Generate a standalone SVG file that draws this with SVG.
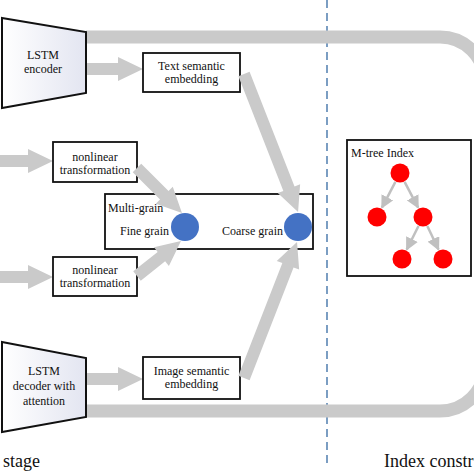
<svg xmlns="http://www.w3.org/2000/svg" width="474" height="474" viewBox="0 0 474 474">
<defs>
<linearGradient id="trap" x1="0" y1="0" x2="1" y2="0">
<stop offset="0" stop-color="#ffffff"/>
<stop offset="1" stop-color="#e3e5f1"/>
</linearGradient>
<marker id="tri" viewBox="0 0 10 10" refX="9" refY="5" markerUnits="userSpaceOnUse" markerWidth="13" markerHeight="13" orient="auto">
<path d="M0,0 L10,5 L0,10 z" fill="#c0c0c0"/>
</marker>
</defs>
<style>
text{font-family:"Liberation Serif","Times New Roman",serif;fill:#111;}
.t12{font-size:12px;text-anchor:middle;}
.l12{font-size:12px;}
.big{font-size:18px;}
.box{fill:#fff;stroke:#111;stroke-width:1.8;}
.trap{fill:url(#trap);stroke:#111;stroke-width:2;}
.band{fill:none;stroke:#cacaca;stroke-width:13;}
.ga{fill:#cacaca;}
.tl{stroke:#c0c0c0;stroke-width:2.5;fill:none;marker-end:url(#tri);}
.blue{fill:#4472c4;}
.red{fill:#ff0000;}
.dash{stroke:#5b86b4;stroke-width:1.6;stroke-dasharray:8 5;fill:none;}
</style>
<rect width="474" height="474" fill="#fff"/>
<line class="dash" x1="327" y1="0" x2="327" y2="463"/>
<g id="connectors">
<path class="band" d="M86 37 H440 A45 45 0 0 1 485 82 V366 A45 45 0 0 1 440 411 H86"/>
<polygon class="ga" transform="translate(86,69)" points="0,-6 32,-6 32,-12 57,0 32,12 32,6 0,6"/>
<polygon class="ga" transform="translate(0,161)" points="0,-6 28,-6 28,-12 53,0 28,12 28,6 0,6"/>
<polygon class="ga" transform="translate(0,277)" points="0,-6 28,-6 28,-12 53,0 28,12 28,6 0,6"/>
<polygon class="ga" transform="translate(86,379)" points="0,-6 32,-6 32,-12 57,0 32,12 32,6 0,6"/>
</g>
<g id="lstm-encoder">
<polygon class="trap" points="2,18 86,32 86,93 2,108"/>
<text class="t12" x="43" y="59">LSTM</text>
<text class="t12" x="43" y="73">encoder</text>
</g>
<g id="lstm-decoder">
<polygon class="trap" points="2,342 86,358 86,417 2,432"/>
<text class="t12" x="44" y="375">LSTM</text>
<text class="t12" x="44" y="390">decoder with</text>
<text class="t12" x="44" y="405">attention</text>
</g>
<g id="text-embedding">
<rect class="box" x="143" y="53" width="97" height="39"/>
<text class="t12" x="191.5" y="70">Text semantic</text>
<text class="t12" x="191.5" y="83">embedding</text>
</g>
<g id="image-embedding">
<rect class="box" x="143" y="357" width="97" height="42"/>
<text class="t12" x="191.5" y="375">Image semantic</text>
<text class="t12" x="191.5" y="388">embedding</text>
</g>
<g id="nonlinear-top">
<rect class="box" x="53" y="142" width="84" height="40"/>
<text class="t12" x="95" y="161">nonlinear</text>
<text class="t12" x="95" y="174">transformation</text>
</g>
<g id="nonlinear-bottom">
<rect class="box" x="53" y="257" width="84" height="39"/>
<text class="t12" x="95" y="274">nonlinear</text>
<text class="t12" x="95" y="287">transformation</text>
</g>
<g id="multi-grain">
<rect class="box" x="105" y="194" width="208" height="55"/>
<text class="l12" x="108" y="212">Multi-grain</text>
<text class="l12" x="120" y="235">Fine grain</text>
<text class="l12" x="222" y="235">Coarse grain</text>
</g>
<g id="connectors-diag">
<polygon class="ga" transform="translate(137,168) rotate(45)" points="0,-6 38.6,-6 38.6,-12 63.6,0 38.6,12 38.6,6 0,6"/>
<polygon class="ga" transform="translate(137,276) rotate(-38.5)" points="0,-6 31.2,-6 31.2,-12 56.2,0 31.2,12 31.2,6 0,6"/>
<polygon class="ga" transform="translate(244,74) rotate(68.6)" points="0,-6 123.2,-6 123.2,-12 148.2,0 123.2,12 123.2,6 0,6"/>
<polygon class="ga" transform="translate(244,378) rotate(-68.7)" points="0,-6 121,-6 121,-12 146,0 121,12 121,6 0,6"/>
</g>
<g id="fine-grain">
<circle class="blue" cx="185" cy="227" r="14"/>
</g>
<g id="coarse-grain">
<circle class="blue" cx="298" cy="227" r="14"/>
</g>
<g id="mtree-index">
<rect class="box" x="347" y="140" width="124" height="136"/>
<text class="l12" x="351" y="157">M-tree Index</text>
<g id="tree-edges">
<line class="tl" x1="395.4" y1="181.9" x2="381.9" y2="207.7"/>
<line class="tl" x1="404.6" y1="181.9" x2="418.1" y2="207.7"/>
<line class="tl" x1="418.5" y1="226" x2="406.7" y2="249.6"/>
<line class="tl" x1="427.3" y1="226" x2="438.5" y2="249.5"/>
</g>
<circle class="red" cx="400" cy="173" r="9.5"/>
<circle class="red" cx="377" cy="217" r="9.5"/>
<circle class="red" cx="423" cy="217" r="9.5"/>
<circle class="red" cx="402" cy="259" r="9.5"/>
<circle class="red" cx="443" cy="259" r="9.5"/>
</g>
<text class="big" x="3" y="467">stage</text>
<text class="big" x="384" y="467">Index constr</text>
</svg>
